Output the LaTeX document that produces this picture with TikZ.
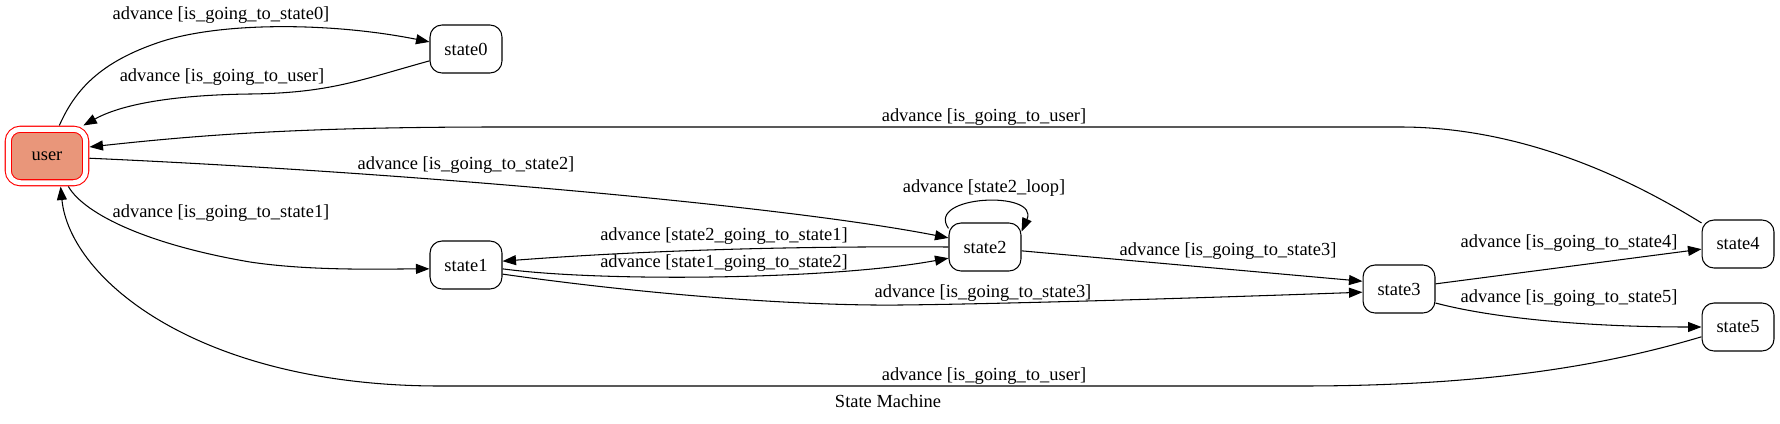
\documentclass[tikz,border=0pt]{standalone}
\usepackage{fontspec}
\setmainfont{Liberation Serif}
\usetikzlibrary{arrows.meta}
\definecolor{darksalmon}{RGB}{233,150,122}
\tikzstyle{box} = [draw, rounded corners=0.24cm, minimum width=1.44cm, minimum height=0.96cm, inner sep=0pt, line width=0.6pt]
\tikzstyle{initstate} = [box, draw=red, fill=darksalmon, double=white, double distance=0.1cm, minimum width=1.55cm, minimum height=1.07cm, outer sep=0.075cm]
\tikzstyle{arrow} = [line width=0.6pt, -{Triangle[length=0.27cm, width=0.2cm]}]

\begin{document}
\begin{tikzpicture}[x=0.02cm, y=-0.02cm, every node/.style={font=\fontsize{10.5}{12.6}\selectfont}]
\useasboundingbox (0,0) rectangle (1780,423);
%states
\draw (47,156) node (user) [initstate] {user};
\draw (466,49) node (state0) [box] {state0};
\draw (466,265) node (state1) [box] {state1};
\draw (985,247) node (state2) [box] {state2};
\draw (1399,289) node (state3) [box] {state3};
\draw (1738,244) node (state4) [box] {state4};
\draw (1738,327) node (state5) [box] {state5};
%transitions
\draw [arrow] (user.68) .. controls (75,90) and (100,62) .. (160,42) .. controls (220,22) and (330,22) .. (state0.169);
\draw [arrow] (state0.198) .. controls (360,80) and (330,93) .. (250,94) .. controls (170,95) and (120,105) .. (user.40);
\draw [arrow] (user.-55) .. controls (85,215) and (150,245) .. (250,262) .. controls (310,271) and (380,269) .. (state1.186);
\draw [arrow] (user.-3) .. controls (400,172) and (780,205) .. (state2.166);
\draw [arrow] (state2.180) .. controls (800,246) and (650,250) .. (state1.6);
\draw [arrow] (state1.-6) .. controls (600,282) and (830,280) .. (state2.197);
\draw [arrow] (state1.-14) .. controls (650,295) and (800,306) .. (900,305) .. controls (1000,304) and (1200,298) .. (state3.185);
\draw [arrow] (state2.-6) -- (state3.168);
\draw [arrow] (state2.153) .. controls (925,195) and (1040,190) .. (state2.23);
\draw [arrow] (state3.8) -- (state4.188);
\draw [arrow] (state3.-21) .. controls (1500,320) and (1600,327) .. (state5.180);
\draw [arrow] (state4.150) .. controls (1640,185) and (1530,127) .. (1400,127) -- (500,127) .. controls (300,127) and (200,135) .. (user.12);
\draw [arrow] (state5.195) .. controls (1600,367) and (1480,386) .. (1300,386) -- (440,386) .. controls (200,386) and (70,280) .. (user.-66);
%labels
\node (l0) at (221,15) {advance [is\_going\_to\_state0]};
\node (l1) at (222,77) {advance [is\_going\_to\_user]};
\node (l2) at (466,165) {advance [is\_going\_to\_state2]};
\node (l3) at (221,213) {advance [is\_going\_to\_state1]};
\node (l4) at (984,117) {advance [is\_going\_to\_user]};
\node (l5) at (984,188) {advance [state2\_loop]};
\node (l6) at (724,236) {advance [state2\_going\_to\_state1]};
\node (l7) at (724,263) {advance [state1\_going\_to\_state2]};
\node (l8) at (1228,251) {advance [is\_going\_to\_state3]};
\node (l9) at (983,293) {advance [is\_going\_to\_state3]};
\node (l10) at (1569,243) {advance [is\_going\_to\_state4]};
\node (l11) at (1569,298) {advance [is\_going\_to\_state5]};
\node (l12) at (984,376) {advance [is\_going\_to\_user]};
\node (title) at (888,401) {State Machine};
\end{tikzpicture}
\end{document}
